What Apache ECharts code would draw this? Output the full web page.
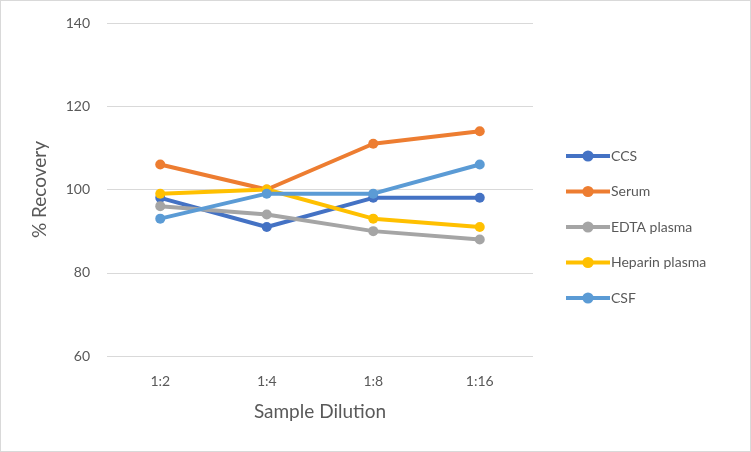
<!DOCTYPE html>
<html>
<head>
<meta charset="utf-8">
<script src="https://cdn.jsdelivr.net/npm/echarts@6/dist/echarts.min.js"></script>
<style>
html,body{margin:0;padding:0;background:#fff;}
#main{width:751px;height:452px;box-sizing:border-box;border:1px solid #d9d9d9;}
</style>
</head>
<body>
<div id="main"></div>
<script>
var dilutions = ['1:2', '1:4', '1:8', '1:16'];
var ccs = [98, 91, 98, 98];
var serum = [106, 100, 111, 114];
var edta = [96, 94, 90, 88];
var heparin = [99, 100, 93, 91];
var csf = [93, 99, 99, 106];

var chart = echarts.init(document.getElementById('main'));
var font = 'Lato, "Open Sans", sans-serif';

function line(name, data, color) {
    return {
        name: name,
        type: 'line',
        data: data,
        symbol: 'circle',
        symbolSize: 10,
        lineStyle: {width: 4, color: color},
        itemStyle: {color: color},
        z: 3
    };
}

var option = {
    animation: false,
    textStyle: {fontFamily: font},
    grid: {left: 106, right: 217, top: 22, bottom: 95},
    legend: {
        orient: 'vertical',
        left: 563,
        top: 148,
        padding: 0,
        itemWidth: 44,
        itemHeight: 14,
        itemGap: 21.5,
        lineStyle: {width: 4},
        textStyle: {color: '#595959', fontSize: 14, fontFamily: font, padding: [0, 0, 0, -4]},
        data: ['CCS', 'Serum', 'EDTA plasma', 'Heparin plasma', 'CSF']
    },
    xAxis: {
        type: 'category',
        data: dilutions,
        name: 'Sample Dilution',
        nameLocation: 'middle',
        nameGap: 46,
        nameTextStyle: {color: '#595959', fontSize: 19, fontFamily: font},
        axisLine: {show: false},
        axisTick: {show: false},
        axisLabel: {color: '#595959', fontSize: 14, margin: 18}
    },
    yAxis: {
        type: 'value',
        min: 60,
        max: 140,
        interval: 20,
        name: '% Recovery',
        nameLocation: 'middle',
        nameGap: 58,
        nameTextStyle: {color: '#595959', fontSize: 19, fontFamily: font},
        axisLine: {show: false},
        axisTick: {show: false},
        axisLabel: {color: '#595959', fontSize: 14, margin: 17},
        splitLine: {lineStyle: {color: '#d9d9d9', width: 1}}
    },
    series: [
        line('CCS', ccs, '#4472C4'),
        line('Serum', serum, '#ED7D31'),
        line('EDTA plasma', edta, '#A5A5A5'),
        line('Heparin plasma', heparin, '#FFC000'),
        line('CSF', csf, '#5B9BD5')
    ]
};
chart.setOption(option);
</script>
</body>
</html>
